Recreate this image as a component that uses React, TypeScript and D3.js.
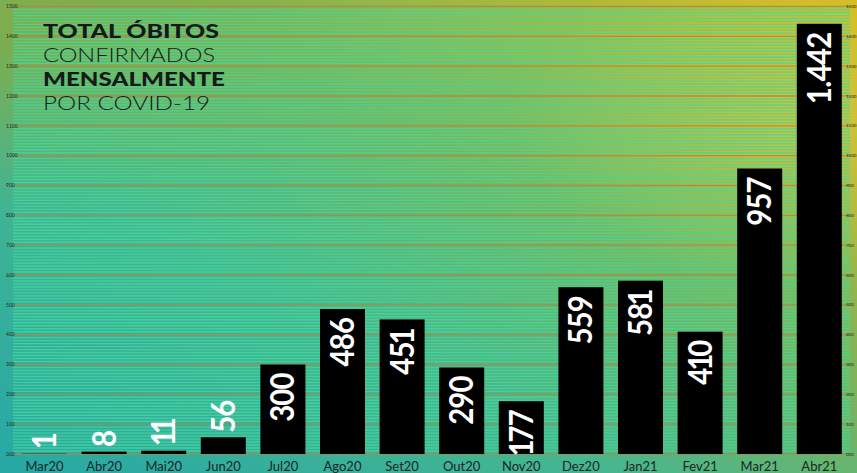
import React from "react";
import * as d3 from "d3";

const months = ["Mar20","Abr20","Mai20","Jun20","Jul20","Ago20","Set20","Out20","Nov20","Dez20","Jan21","Fev21","Mar21","Abr21"];
const deaths = [1, 8, 11, 56, 300, 486, 451, 290, 177, 559, 581, 410, 957, 1442];
const valueLabels = ["1","8","11","56","300","486","451","290","177","559","581","410","957","1.442"];
const tickValues = [0,100,200,300,400,500,600,700,800,900,1000,1100,1200,1300,1400,1500];
const tickLabels = ["000","100","200","300","400","500","600","700","800","900","1000","1100","1200","1300","1400","1500"];
const minorTicks = d3.range(0, 1501, 10);
const titleLines = [
  { text: "TOTAL ÓBITOS", bold: true },
  { text: "CONFIRMADOS", bold: false },
  { text: "MENSALMENTE", bold: true },
  { text: "POR COVID-19", bold: false },
];
const titleWidths = [176, 172, 182, 167];

const W = 857, H = 473;

function glyphs(label: string) {
  const chars = label.split("");
  return chars.map((c, k) => {
    const prev = k > 0 ? chars[k - 1] : "";
    let dx = k > 0 ? -1 : 0;
    if (c === ".") dx = -0.5;
    else if (prev === ".") dx = -0.5;
    else {
      if (c === "1" && k > 0) dx -= 2.3;
      if (prev === "1") dx -= 2.3;
    }
    return <tspan key={k} dx={dx}>{c}</tspan>;
  });
}

export default function App() {
  const x = d3.scaleBand<string>().domain(months).range([14.7, 849.1]).paddingInner(0.245).paddingOuter(0.1225);
  const y = d3.scaleLinear().domain([0, 1500]).range([454, 6.5]);
  const gx0 = 13, gx1 = 850;
  return (
    <svg width={W} height={H} style={{ position: "absolute", left: 0, top: 0, display: "block" }} fontFamily="Lato, 'Open Sans', sans-serif">
      <defs>
        <linearGradient id="bg" x1="0" y1="1" x2="1" y2="0">
          <stop offset="0" stopColor="#26a8a6" />
          <stop offset="0.35" stopColor="#46b690" />
          <stop offset="0.6" stopColor="#7cb45a" />
          <stop offset="1" stopColor="#d4bc20" />
        </linearGradient>
        <radialGradient id="glowTR" cx="0.95" cy="0.25" r="0.35">
          <stop offset="0" stopColor="#e0c840" stopOpacity="0.6" />
          <stop offset="1" stopColor="#e0c840" stopOpacity="0" />
        </radialGradient>
        <radialGradient id="glowTL" cx="0.05" cy="0.05" r="0.4">
          <stop offset="0" stopColor="#90a838" stopOpacity="0.7" />
          <stop offset="1" stopColor="#90a838" stopOpacity="0" />
        </radialGradient>
      </defs>
      <rect x={0} y={0} width={W} height={H} fill="url(#bg)" />
      <rect x={0} y={0} width={W} height={H} fill="url(#glowTR)" />
      <rect x={0} y={0} width={W} height={H} fill="url(#glowTL)" />
      <g>
        {minorTicks.filter((t) => t % 100 !== 0).map((t) => (
          <line key={"m" + t} x1={gx0} x2={gx1} y1={y(t)} y2={y(t)} stroke="#44d89c" strokeOpacity={0.8} strokeWidth={1.4} />
        ))}
        {tickValues.map((t) => (
          <line key={"M" + t} x1={gx0} x2={gx1} y1={y(t)} y2={y(t)} stroke="#9c9050" strokeOpacity={0.9} strokeWidth={1.4} />
        ))}
      </g>
      <g fontSize={5} fill="#1f2a1a">
        {tickValues.map((t, i) => (
          <text key={"l" + t} x={6} y={y(t)} dy="0.35em">{tickLabels[i]}</text>
        ))}
        {tickValues.map((t, i) => (
          <text key={"r" + t} x={846} y={y(t)} dy="0.35em" fontSize={4.5}>{tickLabels[i]}</text>
        ))}
      </g>
      <g fill="#141a1a">
        {titleLines.map((l, i) => (
          <text key={l.text} x={43} y={37.5 + i * 24} fontSize={19.5} fontWeight={l.bold ? 900 : 300}
            textLength={titleWidths[i]} lengthAdjust="spacingAndGlyphs">{l.text}</text>
        ))}
      </g>
      <g>
        {months.map((m, i) => (
          <rect key={m} x={x(m)} y={y(deaths[i])} width={x.bandwidth()} height={y(0) - y(deaths[i])} fill="#000" />
        ))}
      </g>
      <g fill="#fff" fontSize={32} fontWeight={700}>
        {months.map((m, i) => {
          const cx = (x(m) as number) + x.bandwidth() / 2;
          const top = y(deaths[i]);
          const inside = deaths[i] >= 150;
          return (
            <text key={m} transform={`translate(${cx},${inside ? top + 8 : top - 4.5}) rotate(-90) scale(0.92,1)`}
              textAnchor={inside ? "end" : "start"} dy="0.36em">{glyphs(valueLabels[i])}</text>
          );
        })}
      </g>
      <g fontSize={13} fill="#1b2626">
        {months.map((m) => (
          <text key={m} x={(x(m) as number) + x.bandwidth() / 2} y={471} textAnchor="middle">{m}</text>
        ))}
      </g>
    </svg>
  );
}
